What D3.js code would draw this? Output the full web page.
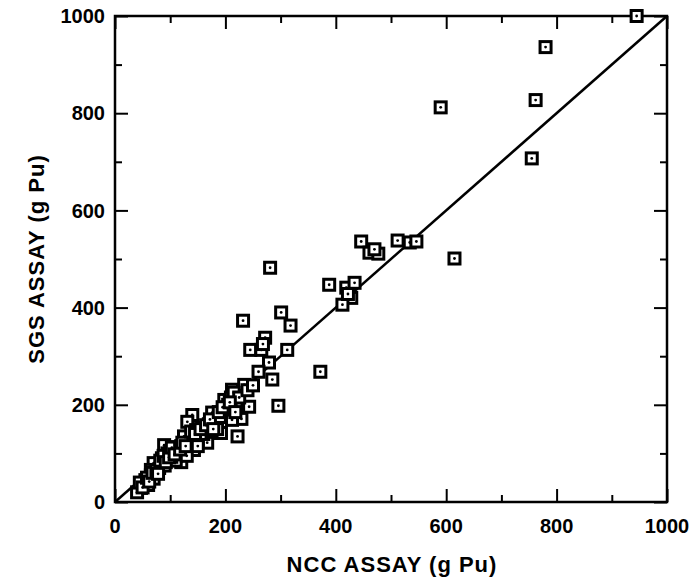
<!DOCTYPE html>
<html>
<head>
<meta charset="utf-8">
<script src="https://cdn.jsdelivr.net/npm/d3@7"></script>
<style>
  body { margin: 0; background: #fff; }
  svg text { font-family: "Liberation Sans", Arial, sans-serif; font-weight: bold; fill: #000; }
</style>
</head>
<body>
<svg id="chart" width="697" height="579"></svg>
<script>
// NCC assay vs SGS assay, g Pu
const nccValues = [
  945, 780, 762, 590, 755, 615,
  512, 534, 546, 446, 461, 477, 470,
  388, 419, 434, 428, 412, 422,
  281, 232, 301, 318, 272, 245, 265, 312, 268,
  279, 260, 285, 372, 296,
  234, 212, 198, 220, 243, 229, 222, 176, 201, 212, 192, 167, 143, 158, 140, 131, 147,
  89, 120, 76, 47, 40,
  55, 60, 65, 70, 80, 85, 90, 95, 100, 105, 110, 115, 120, 125, 130, 135, 140, 150, 160,
  170, 180, 185, 190, 205, 210, 215, 45, 50, 70, 100, 110, 125, 130, 150, 175, 200, 225,
  240, 250, 113, 102, 65,
  58, 62, 68, 75, 78, 82, 88, 92, 98, 103, 108, 118, 122, 128, 138, 145, 155, 165, 172,
  178, 188, 195, 208, 218
];
const sgsValues = [
  1000, 936, 827, 812, 707, 501,
  538, 534, 536, 536, 513, 511, 520,
  447, 441, 451, 420, 406, 428,
  482, 373, 390, 363, 338, 313, 313, 313, 325,
  287, 268, 252, 268, 198,
  241, 231, 210, 198, 196, 171, 135, 184, 175, 169, 142, 122, 107, 152, 179, 165, 148,
  117, 82, 62, 29, 20,
  45, 35, 55, 48, 70, 90, 75, 100, 88, 95, 110, 100, 115, 105, 125, 120, 135, 128, 140,
  160, 165, 150, 175, 200, 215, 225, 40, 30, 80, 105, 85, 135, 95, 115, 145, 190, 215,
  230, 240, 113, 93, 66,
  50, 42, 60, 65, 58, 85, 95, 82, 92, 112, 98, 108, 122, 115, 145, 140, 150, 158, 170,
  150, 185, 195, 205, 185
];
const majorTicks = [0, 200, 400, 600, 800, 1000];
const minorTicks = [100, 300, 500, 700, 900];
const xTitle = "NCC ASSAY (g Pu)";
const yTitle = "SGS ASSAY (g Pu)";

const points = nccValues.map((v, i) => ({ ncc: v, sgs: sgsValues[i] }));

const svg = d3.select("#chart");
const plotLeft = 115, plotRight = 667, plotTop = 16, plotBottom = 502;

const x = d3.scaleLinear().domain([0, 1000]).range([plotLeft, plotRight]);
const y = d3.scaleLinear().domain([0, 1000]).range([plotBottom, plotTop]);

const majorLen = 13, minorLen = 7;

// inward ticks on all four sides
function ticks(orient, scale, values, len, transform) {
  svg.append("g")
    .attr("transform", transform)
    .call(orient(scale).tickValues(values).tickSize(-len).tickFormat(""))
    .call(g => g.select(".domain").remove())
    .call(g => g.selectAll("line").attr("stroke", "#000").attr("stroke-width", 2));
}
ticks(d3.axisBottom, x, majorTicks, majorLen, `translate(0,${plotBottom})`);
ticks(d3.axisBottom, x, minorTicks, minorLen, `translate(0,${plotBottom})`);
ticks(d3.axisTop, x, majorTicks, majorLen, `translate(0,${plotTop})`);
ticks(d3.axisTop, x, minorTicks, minorLen, `translate(0,${plotTop})`);
ticks(d3.axisLeft, y, majorTicks, majorLen, `translate(${plotLeft},0)`);
ticks(d3.axisLeft, y, minorTicks, minorLen, `translate(${plotLeft},0)`);
ticks(d3.axisRight, y, majorTicks, majorLen, `translate(${plotRight},0)`);
ticks(d3.axisRight, y, minorTicks, minorLen, `translate(${plotRight},0)`);

// frame
svg.append("rect")
  .attr("x", plotLeft).attr("y", plotTop)
  .attr("width", plotRight - plotLeft).attr("height", plotBottom - plotTop)
  .attr("fill", "none").attr("stroke", "#000").attr("stroke-width", 2.5);

// tick labels
svg.append("g").selectAll("text").data(majorTicks).join("text")
  .attr("x", d => x(d)).attr("y", plotBottom + 31)
  .attr("text-anchor", "middle").style("font-size", "20px")
  .text(d => d);

svg.append("g").selectAll("text").data(majorTicks).join("text")
  .attr("x", plotLeft - 10).attr("y", d => y(d)).attr("dy", "0.36em")
  .attr("text-anchor", "end").style("font-size", "20px")
  .text(d => d);

// axis titles
svg.append("text")
  .attr("x", (plotLeft + plotRight) / 2 + 1).attr("y", 572)
  .attr("text-anchor", "middle").style("font-size", "22px").style("letter-spacing", "1px")
  .text(xTitle);

svg.append("text")
  .attr("transform", `translate(44,${(plotTop + plotBottom) / 2}) rotate(-90)`)
  .attr("text-anchor", "middle").style("font-size", "22px").style("letter-spacing", "1px")
  .text(yTitle);

// 1:1 line
svg.append("line")
  .attr("x1", x(0)).attr("y1", y(0))
  .attr("x2", x(1000)).attr("y2", y(1000))
  .attr("stroke", "#000").attr("stroke-width", 2.5);

// markers: square with centre dot
const size = 11;
const marks = svg.append("g").selectAll("g").data(points).join("g")
  .attr("transform", d => `translate(${x(d.ncc)},${y(d.sgs)})`);

marks.append("rect")
  .attr("x", -size / 2).attr("y", -size / 2)
  .attr("width", size).attr("height", size)
  .attr("fill", "#fff").attr("stroke", "#000").attr("stroke-width", 3);

marks.append("circle")
  .attr("r", 1.4).attr("fill", "#000");
</script>
</body>
</html>
